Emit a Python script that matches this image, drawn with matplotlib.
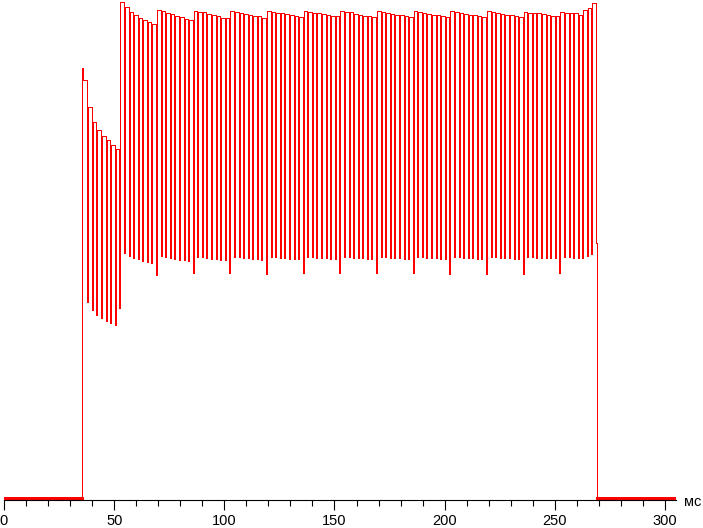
import matplotlib
matplotlib.use("Agg")
import matplotlib.pyplot as plt
import numpy as np

# ---- data (values = signal level, arbitrary units; 0 = dark baseline) ----
# plateau (high) level of each PWM cycle, cycle k ends with trough k
high_levels = [
    418, 391, 376, 368, 362, 358, 353, 349,
    496.5, 491.5, 486.5, 483, 480, 478, 476, 474.5,
    488.5, 487, 485, 484, 482.5, 481, 479.5, 478,
    487.5, 486.3, 485.7, 484, 483, 482, 480.5, 480,
    487, 486.3, 485, 484.2, 483.5, 482.5, 481.7, 480.5,
    487, 486.3, 485, 484.7, 483.8, 483, 482.5, 481.3,
    486.7, 486.3, 485.3, 484.7, 483.8, 483, 482.2, 481.7,
    486.7, 486, 486, 484.5, 483, 482.5, 482, 481,
    487, 486, 485.5, 484.5, 483.5, 483, 482, 481.5,
    487, 486, 485.5, 484.5, 483.5, 483, 482, 481.5,
    487, 486, 485.5, 484.5, 483.5, 483, 482, 481.5,
    487, 486, 485.5, 484.5, 483.5, 483, 482, 481.5,
    486.5, 485.5, 485, 484.7, 484, 483, 482, 481.7,
    486.5, 485.3, 485.3, 485, 483, 488, 490.5, 495.5,
]
# trough (low) level at the end of each cycle
low_levels = [
    196, 188, 183, 180, 177, 175, 173, 190,
    245, 242, 240, 239, 237, 236, 235, 223,
    242, 241, 240, 239, 238, 238, 237, 225,
    241, 241, 240, 239, 239, 238, 238, 225,
    241, 241, 240, 240, 239.5, 239, 238, 224,
    241, 241, 240, 240, 239.5, 239, 239, 225.3,
    241.3, 241, 240.3, 240, 239.7, 239.3, 238.7, 225.3,
    241.3, 241, 240.3, 240, 239.7, 239.3, 238.7, 225.3,
    241.3, 241, 240.3, 240, 239.7, 239.3, 238.7, 225.3,
    241.3, 241, 240.3, 240, 239.7, 239.3, 238.7, 224,
    241.3, 241, 240.3, 240, 239.7, 239.3, 238.7, 224,
    241.3, 241, 240.3, 240, 239.7, 239.3, 239, 224,
    241.3, 241.3, 240.3, 240.3, 240.3, 239.7, 239.7, 225.3,
    241.3, 241.3, 240.3, 239.7, 240.3, 242.3, 244.3,
]
t_on = 35.4          # ms, backlight switches on
rise_step = 95       # first sample during the rise
overshoot = 430      # initial spike
first_trough = 37.80 # ms
pwm_period = 2.0803  # ms
low_width = 0.45     # ms
t_off = 268.9        # ms, switch off
fall_step = 255      # sample during the final fall
t_end = 305.0

xticks_major = [0, 50, 100, 150, 200, 250, 300]
unit_label = "мс"

# ---- build step samples ----
ts = [0.0, t_on, t_on + 0.15, t_on + 0.5]
vs = [0.0, rise_step, overshoot, high_levels[0]]
n_tr = len(low_levels)
for k in range(n_tr):
    tk = first_trough + k * pwm_period
    ts += [tk, tk + low_width]
    vs += [low_levels[k], high_levels[k + 1]]
ts += [t_off, t_off + 0.2, t_end]
vs += [fall_step, 0.0, 0.0]

W, H = 703, 528
fig = plt.figure(figsize=(W / 100, H / 100), dpi=100)
ax = fig.add_axes([4 / W, 28 / H, 672 / W, 500 / H])
ax.plot(ts, vs, drawstyle="steps-post", color="#ff0000", lw=0.5,
        antialiased=False, solid_joinstyle="miter")
# slightly thicker dark baseline segments as in the reference
ax.plot([0, t_on], [0, 0], color="#ff0000", lw=0.75, antialiased=False)
ax.plot([t_off + 0.2, t_end], [0, 0], color="#ff0000", lw=0.75, antialiased=False)
ax.set_xlim(0, t_end)
ax.set_ylim(-2, 498)

for s in ("left", "right", "top"):
    ax.spines[s].set_visible(False)
ax.spines["bottom"].set_linewidth(0.8)
ax.spines["bottom"].set_color("black")
ax.set_yticks([])
ax.set_xticks(xticks_major)
ax.set_xticks(np.arange(0, 301, 10), minor=True)
ax.tick_params(axis="x", which="major", length=7.5, width=0.8, pad=2.5,
               labelsize=10.5, direction="out")
ax.tick_params(axis="x", which="minor", length=4, width=0.8, direction="out")
for lab in ax.get_xticklabels():
    lab.set_family(["Liberation Sans", "DejaVu Sans"])
fig.text(693 / W, 1 - 502 / H, unit_label, ha="center", va="center",
         fontsize=10.5, family=["Liberation Sans", "DejaVu Sans"])

fig.savefig("out.png", dpi=100)
